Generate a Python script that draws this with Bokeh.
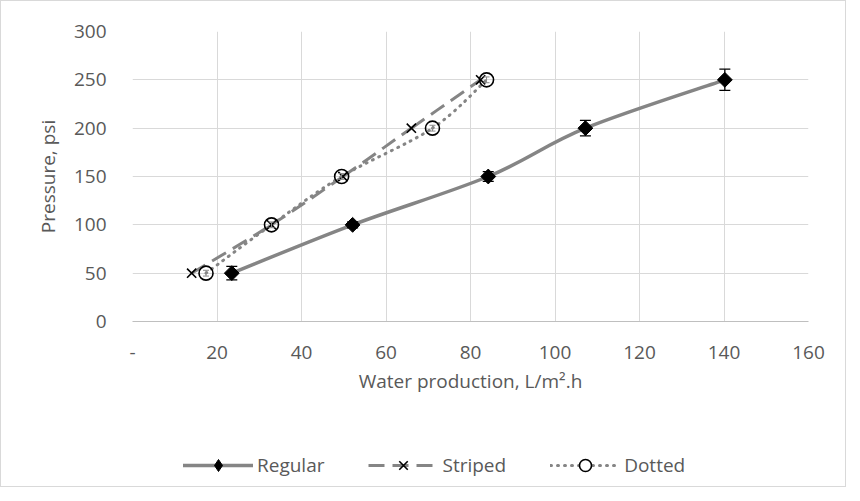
import numpy as np
from bokeh.plotting import figure
from bokeh.layouts import column
from bokeh.models import (Range1d, FixedTicker, Legend, LegendItem, Whisker,
                          ColumnDataSource, TeeHead)
from bokeh.embed import file_html
from bokeh.resources import INLINE

# ---- data ----
pressure = [50, 100, 150, 200, 250]
regular_x = [23.5, 52.1, 84.2, 107.2, 140.2]
regular_err = [7, 3, 5, 8, 11]
striped_x = [14.0, 32.9, 49.8, 66.0, 82.4]
dotted_x = [17.4, 32.9, 49.5, 71.0, 83.8]
dotted_err = [3, 3, 3, 3, 3]
series_names = ["Regular", "Striped", "Dotted"]
x_ticks = [0, 20, 40, 60, 80, 100, 120, 140, 160]
y_ticks = [0, 50, 100, 150, 200, 250, 300]

FONT = "Open Sans"
TXT = "#595959"
LINE = "#858585"

p = figure(frame_width=676, frame_height=290,
           min_border_left=131, min_border_right=37,
           min_border_top=30, min_border_bottom=95,
           x_range=Range1d(0, 160), y_range=Range1d(0, 300),
           output_backend="svg", toolbar_location=None)
p.outline_line_color = None
p.background_fill_color = "white"
p.border_fill_color = "white"

for ax in (p.xaxis[0], p.yaxis[0]):
    ax.major_tick_line_color = None
    ax.minor_tick_line_color = None
    ax.major_label_text_font = FONT
    ax.major_label_text_font_size = "19px"
    ax.major_label_text_color = TXT
    ax.axis_label_text_font = FONT
    ax.axis_label_text_font_size = "19px"
    ax.axis_label_text_color = TXT
    ax.axis_label_text_font_style = "normal"

p.xaxis.ticker = FixedTicker(ticks=x_ticks)
p.xaxis.major_label_overrides = {0: "-"}
p.xaxis.axis_line_color = "#bfbfbf"
p.xaxis.major_label_standoff = 18
p.xaxis.axis_label = "Water production, L/m².h"
p.xaxis.axis_label_standoff = 6

p.yaxis.ticker = FixedTicker(ticks=y_ticks)
p.yaxis.axis_line_color = None
p.yaxis.major_label_standoff = 20
p.yaxis.axis_label = "Pressure, psi"
p.yaxis.axis_label_standoff = 10

p.xgrid.ticker = FixedTicker(ticks=x_ticks)
p.ygrid.ticker = FixedTicker(ticks=y_ticks)
p.xgrid.grid_line_color = "#d9d9d9"
p.ygrid.grid_line_color = "#d9d9d9"


def smooth(xs, ys):
    xs = np.asarray(xs, float)
    ys = np.asarray(ys, float)
    px = np.concatenate([[xs[0]], xs, [xs[-1]]])
    py = np.concatenate([[ys[0]], ys, [ys[-1]]])
    n = len(xs)
    d = dict(x0=[], y0=[], x1=[], y1=[], cx0=[], cy0=[], cx1=[], cy1=[])
    for i in range(n - 1):
        a, b = i + 1, i + 2
        d["x0"].append(px[a]); d["y0"].append(py[a])
        d["x1"].append(px[b]); d["y1"].append(py[b])
        d["cx0"].append(px[a] + (px[b] - px[a - 1]) / 6)
        d["cy0"].append(py[a] + (py[b] - py[a - 1]) / 6)
        d["cx1"].append(px[b] - (px[b + 1] - px[a]) / 6)
        d["cy1"].append(py[b] - (py[b + 1] - py[a]) / 6)
    return ColumnDataSource(d)


styles = {
    "Regular": dict(line_dash="solid", line_width=3.5, line_cap="round"),
    "Striped": dict(line_dash="16 8", line_width=3, line_cap="butt"),
    "Dotted": dict(line_dash="1 6", line_width=3, line_cap="round"),
}
markers = {
    "Regular": dict(marker="square", angle=np.pi / 4, size=10.5,
                    fill_color="black", line_color="black"),
    "Striped": dict(marker="x", size=13, line_color="black", line_width=1.6),
    "Dotted": dict(marker="circle", size=14, fill_color=None,
                   line_color="black", line_width=1.6),
}
legend_markers = {
    "Regular": dict(marker="diamond", fill_color="black", line_color="black"),
    "Striped": dict(marker="x", line_color="black", line_width=1.6),
    "Dotted": dict(marker="circle", fill_color="white", line_color="black",
                   line_width=1.6),
}
xs_by_name = dict(zip(series_names, [regular_x, striped_x, dotted_x]))

for name in series_names:
    p.bezier(x0="x0", y0="y0", x1="x1", y1="y1", cx0="cx0", cy0="cy0",
             cx1="cx1", cy1="cy1", source=smooth(xs_by_name[name], pressure),
             line_color=LINE, **styles[name])

# error bars
src_reg = ColumnDataSource(dict(x=regular_x, y=pressure,
                                lo=[v - e for v, e in zip(pressure, regular_err)],
                                hi=[v + e for v, e in zip(pressure, regular_err)]))
p.add_layout(Whisker(source=src_reg, base="x", lower="lo", upper="hi",
                     dimension="height", line_color="black", line_width=1.3,
                     upper_head=TeeHead(size=11, line_color="black", line_width=1.3),
                     lower_head=TeeHead(size=11, line_color="black", line_width=1.3),
                     level="glyph"))
src_dot = ColumnDataSource(dict(x=dotted_x, y=pressure,
                                lo=[v - e for v, e in zip(pressure, dotted_err)],
                                hi=[v + e for v, e in zip(pressure, dotted_err)]))
p.add_layout(Whisker(source=src_dot, base="x", lower="lo", upper="hi",
                     dimension="height", line_color="#8a8a8a", line_width=1,
                     upper_head=TeeHead(size=6, line_color="#8a8a8a", line_width=1),
                     lower_head=TeeHead(size=6, line_color="#8a8a8a", line_width=1),
                     level="glyph"))

for name in series_names:
    p.scatter(xs_by_name[name], pressure, **markers[name])

# ---- legend strip below the chart (its renderers hold the series but lie
#      outside this strip's ranges, so only the legend is seen) ----
lf = figure(width=844, height=70, x_range=Range1d(-2, -1), y_range=Range1d(-2, -1),
            x_axis_type=None, y_axis_type=None, output_backend="svg",
            toolbar_location=None, min_border=0)
lf.outline_line_color = None
lf.grid.visible = False
items = []
for name in series_names:
    lr = lf.line(xs_by_name[name], pressure, line_color=LINE, **styles[name])
    mr = lf.scatter(xs_by_name[name], pressure, **legend_markers[name])
    items.append(LegendItem(label=name, renderers=[lr, mr]))

legend = Legend(items=items, orientation="horizontal", location=(51, 6),
                label_text_font=FONT, label_text_font_size="19px",
                label_text_color=TXT, glyph_width=70, glyph_height=30,
                spacing=44, label_standoff=4, border_line_color=None,
                background_fill_alpha=0, padding=0, margin=0)
lf.add_layout(legend, "center")

layout = column(p, lf, spacing=0, styles={"border": "1px solid #d9d9d9"})

open("out.html", "w").write(file_html(layout, INLINE))
